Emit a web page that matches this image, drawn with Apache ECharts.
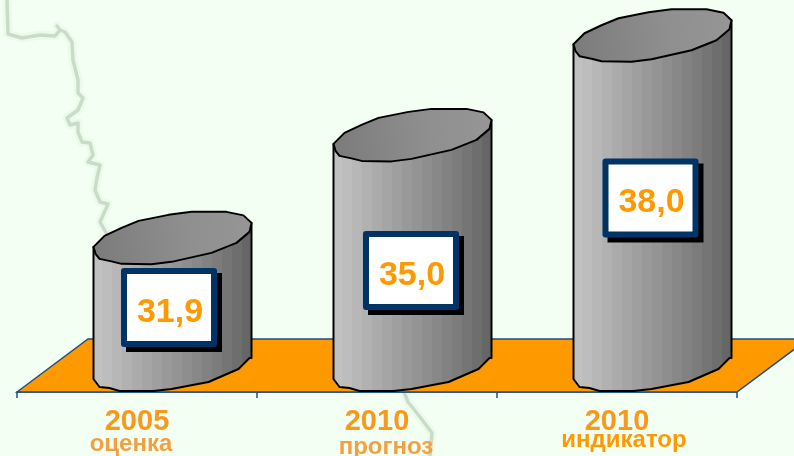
<!DOCTYPE html>
<html>
<head>
<meta charset="utf-8">
<style>html,body{margin:0;padding:0;background:#f3fff3}#c{width:794px;height:456px}</style>
<script src="https://cdn.jsdelivr.net/npm/echarts@6/dist/echarts.min.js"></script>
</head>
<body>
<div id="c"></div>
<script>
const years = ['2005', '2010', '2010'];
const notes = ['оценка', 'прогноз', 'индикатор'];
const values = [31.9, 35.0, 38.0];
const valueLabels = ['31,9', '35,0', '38,0'];

// Layout of hand-placed items, in pixels relative to the category's band centre / the axis line
const BOX_RISE = [84.5, 121.5, 194];          // label box centre above the axis line
const BOX_SHIFT = [32, 34, 33.5];             // label box centre right of the band centre
const NOTE_X = [-6, 9, 7];
const NOTE_Y = [52, 55, 48];
const DEPTH_X = 35.5, BASE_RISE = 23.5;
const FLOOR_DX = 71, FLOOR_DY = 53;

// Outline of a cylinder's (rough, polygonal) end cap relative to its centre
const CAP = [[-79,11],[-68,0],[-51,-8],[-34,-15],[-4,-21],[19,-24],[54,-24],[71,-20.5],[79,-13],
  [77,-4],[64,7],[39,17],[-1,26],[-21,28.5],[-51,28],[-61,25.5],[-73,23],[-77,18]];
const BASE_EDGE = [[79,-10.5],[77,-10.5],[66,0.5],[36,13.5],[-1,20.5],[-19,22.5],[-53,22.5],[-63,19.5],[-73,18.5],[-79,10.5]];
const BODY_STOPS = ['#c1c1c1','#bdbdbd','#b7b7b7','#b1b1b1','#ababab','#a5a5a5','#9f9f9f','#999999','#949494','#8e8e8e','#888888','#828282','#7c7c7c','#757575','#6e6e6e','#666666'];

function bandGradient() {
  const stops = [];
  BODY_STOPS.forEach((c, i) => {
    stops.push({offset: i / BODY_STOPS.length, color: c});
    stops.push({offset: (i + 1) / BODY_STOPS.length, color: c});
  });
  return new echarts.graphic.LinearGradient(0, 0, 1, 0, stops);
}

const mapLineA = [[7,0],[8,34],[22,38],[40,35],[55,36],[60,30],[57,26],[60,30],[65,32],[72,42],[73,60],[78,80],[78,93],[83,98],[78,110],[67,118],[70,125],[78,123],[78,132],[82,142],[90,143],[93,155],[88,162],[100,165],[97,178],[95,190],[100,202],[108,204],[100,222],[108,236]];
const mapLineB = [[404,392],[408,402],[420,417],[432,433],[430,456]];

function mapLine(pts, z) {
  return [
    {type:'polyline', silent:true, z:z, shape:{points:pts}, style:{stroke:'#e8f7e8', lineWidth:9, fill:null, lineJoin:'round', opacity:0.6}},
    {type:'polyline', silent:true, z:z, shape:{points:pts}, style:{stroke:'#c9dcc8', lineWidth:3.5, fill:null, lineJoin:'round'}}
  ];
}

const chart = echarts.init(document.getElementById('c'), null, {renderer:'canvas'});
chart.setOption({
  animation: false,
  backgroundColor: '#f3fff3',
  graphic: {elements: mapLine(mapLineA, -1).concat(mapLine(mapLineB, -1))},
  grid: {left: 17, width: 720, top: -2, height: 394, containLabel: false},
  xAxis: {
    type: 'category', data: years, boundaryGap: true,
    axisLine: {show: true, lineStyle: {color: '#1f4f80', width: 1.5}},
    axisTick: {show: true, alignWithLabel: false, length: 6, lineStyle: {color: '#1f4f80', width: 1.5}},
    axisLabel: {show: true, interval: 0, margin: 15, color: '#f59a1c', fontFamily: 'Liberation Sans', fontWeight: 'bold', fontSize: 29, lineHeight: 29},
    splitLine: {show: false}
  },
  yAxis: {type: 'value', min: 27.2, max: 39, show: false, splitLine: {show: false}},
  series: [
    {
      type: 'custom', coordinateSystem: 'cartesian2d', z: 1, silent: true, clip: false,
      data: [0],
      renderItem(params, api) {
        const cs = params.coordSys;
        const y = cs.y + cs.height, x = cs.x, w = cs.width;
        return {type:'group', children:[
          {type:'polygon', shape:{points:[[x,y],[x+FLOOR_DX,y-FLOOR_DY],[x+w+FLOOR_DX,y-FLOOR_DY],[x+w,y]]},
           style:{fill:'#ff9900', stroke:'#1f4f80', lineWidth:1.5}}
        ]};
      },
      encode: {x: 0, y: 0}
    },
    {
      type: 'custom', coordinateSystem: 'cartesian2d', z: 2, silent: true, clip: false,
      data: values.map((v, i) => [i, v]),
      encode: {x: 0, y: 1},
      renderItem(params, api) {
        const i = api.value(0), v = api.value(1);
        const top = api.coord([i, v]);
        const axis = api.coord([i, 27.2]);
        const cx = top[0] + DEPTH_X, ty = top[1], by = axis[1] - BASE_RISE;
        const capPts = CAP.map(p => [cx + p[0], ty + p[1]]);
        const bodyPts = [[cx + 79, ty - 13]]
          .concat(BASE_EDGE.map(p => [cx + p[0], by + p[1]]))
          .concat([[cx - 79, ty + 11]]);
        const bx = cx + BOX_SHIFT[i] - DEPTH_X, bcy = axis[1] - BOX_RISE[i];
        const bw = 96, bh = 79, bd = 6;
        return {type:'group', children:[
          {type:'polygon', shape:{points:bodyPts}, style:{fill:bandGradient(), stroke:'#000', lineWidth:2, lineJoin:'round'}},
          {type:'polygon', shape:{points:capPts},
           style:{fill:new echarts.graphic.LinearGradient(0,0.7,1,0.3,[{offset:0,color:'#7b7b7b'},{offset:0.6,color:'#8f8f8f'},{offset:1,color:'#969696'}]), stroke:'#000', lineWidth:2, lineJoin:'round'}},
          {type:'rect', shape:{x:bx-bw/2+5, y:bcy-bh/2+5, width:bw, height:bh}, style:{fill:'#000'}},
          {type:'rect', shape:{x:bx-bw/2, y:bcy-bh/2, width:bw, height:bh, r:3}, style:{fill:'#003366'}},
          {type:'rect', shape:{x:bx-bw/2+bd, y:bcy-bh/2+bd, width:bw-2*bd, height:bh-2*bd}, style:{fill:'#ffffff'}},
          {type:'text', style:{text:valueLabels[i], x:bx+1, y:bcy+5, align:'center', verticalAlign:'middle',
            fill:'#ff9900', font:'bold 34px "Liberation Sans"'}}
        ]};
      }
    },
    {
      type: 'custom', coordinateSystem: 'cartesian2d', z: 3, silent: true, clip: false,
      data: values.map((v, i) => [i, v]),
      encode: {x: 0, y: 1},
      renderItem(params, api) {
        const i = api.value(0);
        const a = api.coord([i, 27.2]);
        return {type:'text', style:{text:notes[i], x:a[0]+NOTE_X[i], y:a[1]+NOTE_Y[i], align:'center', verticalAlign:'middle',
          fill: i === 2 ? '#ff9900' : '#f2a040', font:'bold 24px "Liberation Sans"'}};
      }
    }
  ]
});
</script>
</body>
</html>
